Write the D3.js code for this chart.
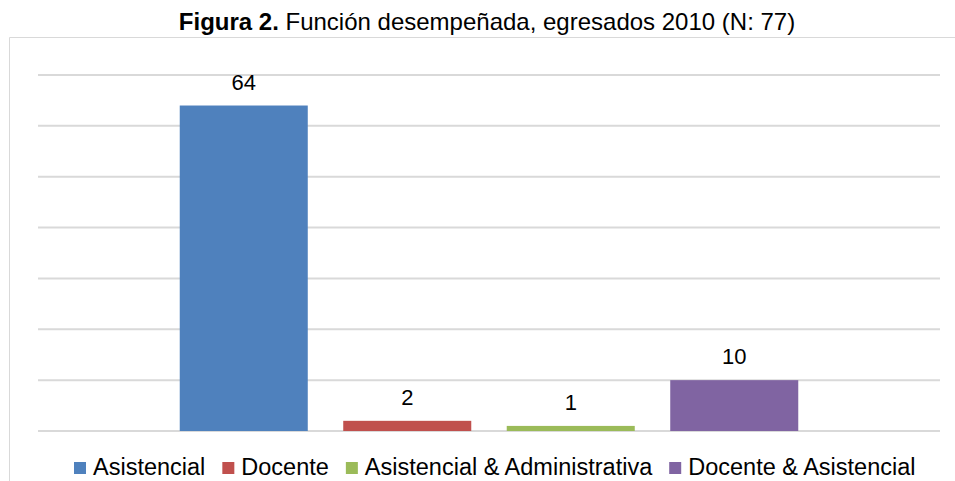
<!DOCTYPE html>
<html>
<head>
<meta charset="utf-8">
<script src="https://cdn.jsdelivr.net/npm/d3@7"></script>
<style>
  body { margin: 0; background: #fff; }
  text { font-family: "Liberation Sans", Arial, sans-serif; fill: #000; }
</style>
</head>
<body>
<div id="chart"></div>
<script>
// data
var series = ["Asistencial", "Docente", "Asistencial & Administrativa", "Docente & Asistencial"];
var values = [64, 2, 1, 10];
var colors = ["#4F81BD", "#C0504D", "#9BBB59", "#8064A2"];
var yTicks = [0, 10, 20, 30, 40, 50, 60, 70];

var width = 955, height = 481;
var plot = {left: 38, right: 940, top: 75, bottom: 431};

var svg = d3.select("#chart").append("svg")
    .attr("width", width)
    .attr("height", height);

// frame
svg.append("path")
    .attr("d", "M9.5,481 V37.5 H955")
    .attr("fill", "none")
    .attr("stroke", "#D9D9D9")
    .attr("stroke-width", 1);

// title
var title = svg.append("text")
    .attr("x", 487)
    .attr("y", 30)
    .attr("text-anchor", "middle")
    .style("font-size", "24px");
title.append("tspan").attr("font-weight", "bold").text("Figura 2.");
title.append("tspan").text(" Función desempeñada, egresados 2010 (N: 77)");

var y = d3.scaleLinear().domain([0, 70]).range([plot.bottom, plot.top]);

// band scale for the four series (single category, Excel style gaps)
var x = d3.scaleBand()
    .domain(series)
    .range([162, 816])
    .paddingInner(0.217)
    .paddingOuter(0.1085);

// gridlines
svg.append("g").selectAll("line")
    .data(yTicks)
    .join("line")
    .attr("x1", plot.left)
    .attr("x2", plot.right)
    .attr("y1", function(d){ return y(d); })
    .attr("y2", function(d){ return y(d); })
    .attr("stroke", "#D9D9D9")
    .attr("stroke-width", 2);

// bars
svg.append("g").selectAll("rect")
    .data(values)
    .join("rect")
    .attr("x", function(d, i){ return x(series[i]); })
    .attr("width", x.bandwidth())
    .attr("y", function(d){ return y(d); })
    .attr("height", function(d){ return y(0) - y(d); })
    .attr("fill", function(d, i){ return colors[i]; });

// value labels
svg.append("g").selectAll("text")
    .data(values)
    .join("text")
    .attr("x", function(d, i){ return x(series[i]) + x.bandwidth() / 2; })
    .attr("y", function(d){ return y(d) - 16; })
    .attr("text-anchor", "middle")
    .style("font-size", "22px")
    .text(function(d){ return d; });

// legend
var legend = svg.append("g").attr("transform", "translate(74,475)");
var lx = 0;
series.forEach(function(s, i){
    legend.append("rect")
        .attr("x", lx)
        .attr("y", -13)
        .attr("width", 12)
        .attr("height", 12)
        .attr("fill", colors[i]);
    var t = legend.append("text")
        .attr("x", lx + 19)
        .attr("y", 0)
        .style("font-size", "23.5px")
        .text(s);
    lx += 19 + t.node().getComputedTextLength() + 17;
});
</script>
</body>
</html>
